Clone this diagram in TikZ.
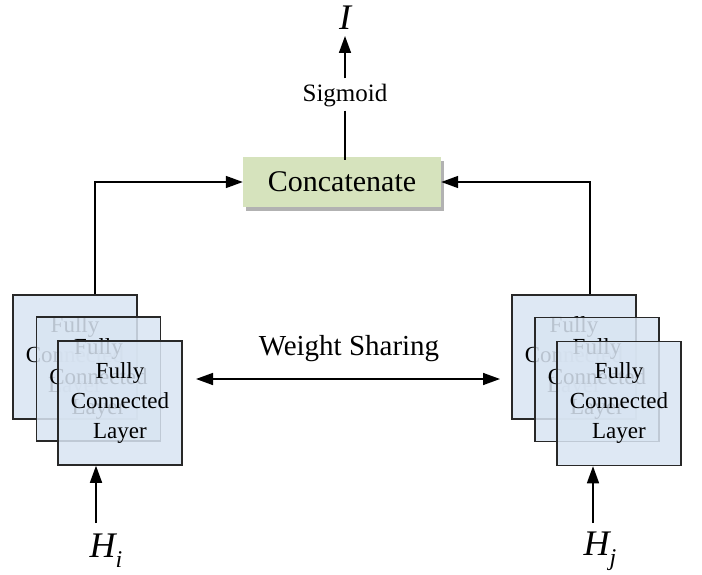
\documentclass[tikz,border=0pt]{standalone}
\usepackage{fontspec}
\setmainfont{Liberation Serif}
\usetikzlibrary{arrows.meta,shadows}
\definecolor{boxfill}{RGB}{216,228,242}
\definecolor{catfill}{RGB}{214,227,189}
\definecolor{boxline}{RGB}{40,40,40}
\newcommand{\hsub}[1]{{\itshape H}\raisebox{-0.28em}{\fontsize{24}{26}\selectfont\itshape #1}}
\tikzset{
  fcbox/.style={draw=boxline, line width=1.5pt, fill=boxfill, fill opacity=0.86, draw opacity=1, text opacity=1,
    minimum width=124pt, minimum height=124pt, inner sep=0pt, align=center,
    font=\fontsize{23}{30}\selectfont},
  catbox/.style={fill=catfill, minimum width=198pt, minimum height=50pt, inner sep=0pt,
    font=\fontsize{30}{34}\selectfont,
    drop shadow={shadow xshift=3pt, shadow yshift=-4pt, fill=black, opacity=0.3}},
  arr/.style={line width=1.5pt, -{Triangle[length=17pt,width=12pt]}},
  dbl/.style={line width=1.5pt, {Triangle[length=17pt,width=12pt]}-{Triangle[length=17pt,width=12pt]}},
  plain/.style={line width=1.5pt},
  lbl/.style={inner sep=0pt}
}
\begin{document}
\begin{tikzpicture}[x=1pt,y=-1pt]
\useasboundingbox (0,0) rectangle (702,575);
% left stack
\node[fcbox] (L1) at (75,357) {Fully\\Connected\\Layer};
\node[fcbox] (L2) at (98.5,379) {Fully\\Connected\\Layer};
\node[fcbox] (L3) at (120,403) {Fully\\Connected\\Layer};
% right stack
\node[fcbox] (R1) at (574,357) {Fully\\Connected\\Layer};
\node[fcbox] (R2) at (597,379.5) {Fully\\Connected\\Layer};
\node[fcbox] (R3) at (619,403.5) {Fully\\Connected\\Layer};
% concatenate
\node[catbox] (cat) at (342,182) {Concatenate};
\node[lbl, font=\fontsize{25}{28}\selectfont] (sig) at (345,96) {Sigmoid};
\node[lbl, font=\fontsize{36}{40}\selectfont\itshape] (I) at (345,18) {I};
\node[lbl, font=\fontsize{29}{32}\selectfont] (ws) at (349,349) {Weight Sharing};
\node[lbl, font=\fontsize{36}{38}\selectfont] (Hi) at (106,551) {\hsub{i}};
\node[lbl, font=\fontsize{36}{38}\selectfont] (Hj) at (600,551) {\hsub{j}};
% coordinates
\coordinate (wsl) at (196,379);
\coordinate (wsr) at (500,379);
\coordinate (hit) at (96,523);
\coordinate (hjt) at (593,523);
% connectors
\draw[arr] ([xshift=20pt]L1.north) |- (cat.west);
\draw[arr] ([xshift=16pt]R1.north) |- (cat.east);
\draw[plain] ([yshift=-3pt]sig.south) -- ([yshift=-3pt]sig.south |- cat.north);
\draw[arr] ([yshift=6pt]sig.north) -- ([yshift=-6pt]I.south);
\draw[dbl] (wsl) -- (wsr);
\draw[arr] (hit) -- (hit |- L3.south);
\draw[arr] (hjt) -- (hjt |- R3.south);
\end{tikzpicture}
\end{document}
